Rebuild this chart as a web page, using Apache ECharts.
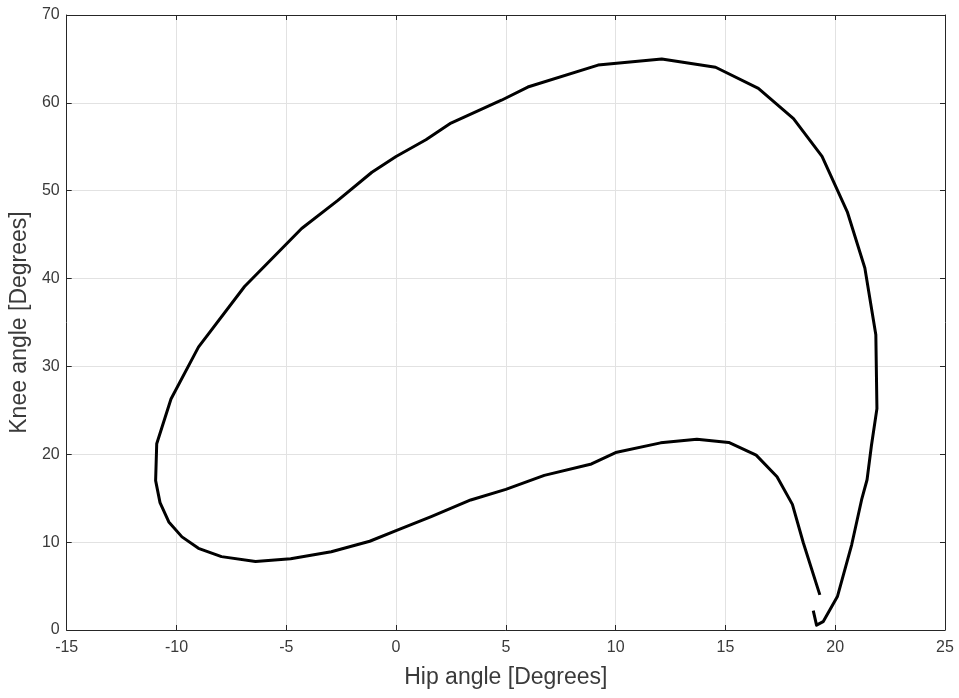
<!DOCTYPE html>
<html>
<head>
<meta charset="utf-8">
<title>Hip-knee angle diagram</title>
<script src="https://cdn.jsdelivr.net/npm/echarts@6/dist/echarts.min.js"></script>
<style>
  html, body { margin: 0; padding: 0; background: #ffffff; }
  #chart { width: 959px; height: 698px; }
</style>
</head>
<body>
<div id="chart"></div>
<script>
// Hip and knee joint angles over one gait cycle, in degrees (sample order)
const hipAngle = [
  19.0, 19.15, 19.45, 20.1, 20.75, 21.2, 21.45, 21.65, 21.9, 21.85,
  21.35, 20.55, 19.4, 18.1, 16.5, 14.55, 12.1, 9.2, 6.0,
  4.8, 2.5, 1.36, 0.0, -1.1, -2.65, -4.3, -6.9, -9.0, -10.25,
  -10.9, -10.95, -10.75, -10.35, -9.75, -9.0, -7.95, -6.4, -4.8, -2.95,
  -1.2, 0.0, 1.6, 3.4, 5.0, 6.75, 8.9, 10.0, 12.05, 13.7,
  15.15, 16.4, 17.35, 18.05, 18.55, 19.3
];
const kneeAngle = [
  2.2, 0.55, 0.95, 3.8, 9.7, 14.8, 17.1, 21.0, 25.2, 33.6,
  41.2, 47.6, 53.9, 58.2, 61.65, 64.05, 65.0, 64.3, 61.8,
  60.3, 57.7, 55.8, 53.9, 52.1, 48.9, 45.7, 39.1, 32.2, 26.3,
  21.2, 17.0, 14.5, 12.3, 10.6, 9.3, 8.35, 7.8, 8.1, 8.9,
  10.1, 11.3, 12.9, 14.8, 16.0, 17.6, 18.9, 20.2, 21.3, 21.7,
  21.35, 19.9, 17.45, 14.3, 9.9, 4.0
];

// Axis ranges and tick spacing
const xRange = { min: -15, max: 25, step: 5 };
const yRange = { min: 0, max: 70, step: 10 };

const xLabel = 'Hip angle [Degrees]';
const yLabel = 'Knee angle [Degrees]';

const points = hipAngle.map((h, i) => [h, kneeAngle[i]]);

const axisColor = '#262626';
const labelColor = '#3a3a3a';
const gridColor = '#e2e2e2';
const fontFamily = 'Liberation Sans, Arial, Helvetica, sans-serif';

function mainAxis(range, name, pos, nameGap, labelMargin) {
  return {
    type: 'value',
    position: pos,
    min: range.min,
    max: range.max,
    interval: range.step,
    name: name,
    nameLocation: 'middle',
    nameGap: nameGap,
    nameTextStyle: { fontSize: 23, color: labelColor, fontFamily: fontFamily },
    axisLine: { show: true, onZero: false, lineStyle: { color: axisColor, width: 1 } },
    axisTick: { show: true, inside: true, length: 5, lineStyle: { color: axisColor } },
    axisLabel: { show: true, color: labelColor, fontSize: 16, fontFamily: fontFamily, margin: labelMargin },
    splitLine: { show: true, lineStyle: { color: gridColor, width: 1 } }
  };
}

function boxAxis(range, pos) {
  return {
    type: 'value',
    position: pos,
    min: range.min,
    max: range.max,
    interval: range.step,
    axisLine: { show: true, onZero: false, lineStyle: { color: axisColor, width: 1 } },
    axisTick: { show: true, inside: true, length: 5, lineStyle: { color: axisColor } },
    axisLabel: { show: false },
    splitLine: { show: false }
  };
}

const chart = echarts.init(document.getElementById('chart'), null, { renderer: 'canvas' });

chart.setOption({
  animation: false,
  backgroundColor: '#ffffff',
  grid: { left: 65, right: 14, top: 15, bottom: 68, containLabel: false },
  xAxis: [
    mainAxis(xRange, xLabel, 'bottom', 36, 10),
    boxAxis(xRange, 'top')
  ],
  yAxis: [
    mainAxis(yRange, yLabel, 'left', 30, 7),
    boxAxis(yRange, 'right')
  ],
  series: [{
    type: 'line',
    data: points,
    xAxisIndex: 0,
    yAxisIndex: 0,
    showSymbol: false,
    symbol: 'none',
    smooth: false,
    lineStyle: { color: '#000000', width: 3, join: 'round', cap: 'butt' }
  }]
});
</script>
</body>
</html>
